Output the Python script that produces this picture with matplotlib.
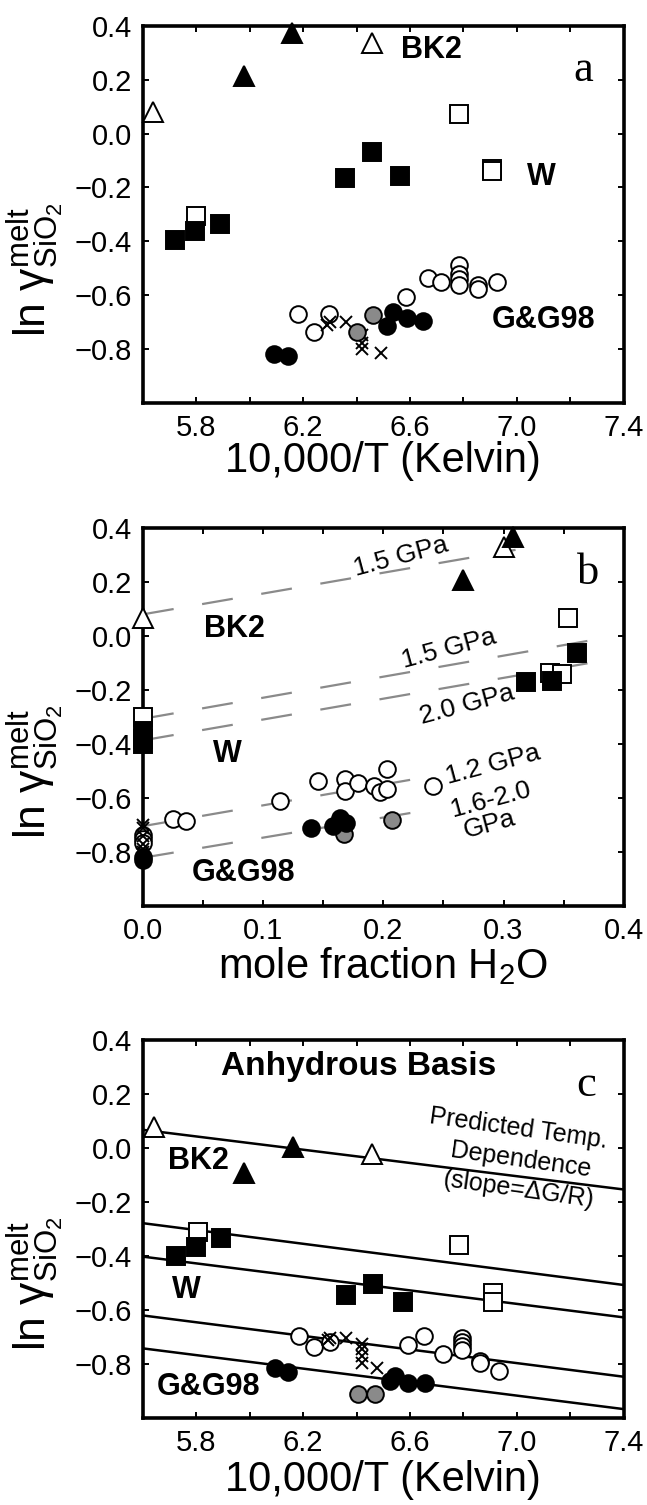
import numpy as np
import matplotlib
matplotlib.use("Agg")
from matplotlib import pyplot as plt
from matplotlib.ticker import MultipleLocator

plt.rcParams['font.family'] = ['Liberation Sans', 'DejaVu Sans']
plt.rcParams['mathtext.fontset'] = 'custom'
plt.rcParams['mathtext.rm'] = 'Liberation Sans'
plt.rcParams['mathtext.it'] = 'Liberation Sans:italic'
plt.rcParams['mathtext.bf'] = 'Liberation Sans:bold'

# ---- panel a : ln gamma vs 10,000/T (hydrous) ----
a_trif_x = [5.977, 6.158]
a_trif_y = [0.213, 0.372]
a_trio_x = [5.638, 6.457]
a_trio_y = [0.079, 0.335]
a_sqf_x = [5.718, 5.795, 5.888, 6.355, 6.457, 6.563]
a_sqf_y = [-0.394, -0.361, -0.337, -0.166, -0.068, -0.159]
a_sqo_x = [5.798, 6.785, 6.905, 6.905]
a_sqo_y = [-0.306, 0.073, -0.130, -0.140]
a_cio_x = [6.18, 6.242, 6.295, 6.585, 6.666, 6.715, 6.785, 6.785, 6.785, 6.785, 6.854, 6.854, 6.926]
a_cio_y = [-0.67, -0.737, -0.67, -0.605, -0.536, -0.55, -0.489, -0.52, -0.538, -0.563, -0.563, -0.575, -0.55]
a_cif_x = [6.089, 6.143, 6.512, 6.538, 6.589, 6.649]
a_cif_y = [-0.817, -0.825, -0.715, -0.66, -0.685, -0.695]
a_cig_x = [6.40, 6.462]
a_cig_y = [-0.734, -0.672]
a_crs_x = [6.29, 6.30, 6.36, 6.42, 6.42, 6.42, 6.49]
a_crs_y = [-0.71, -0.70, -0.70, -0.745, -0.775, -0.80, -0.815]

# ---- panel b : ln gamma vs mole fraction H2O ----
b_trif_x = [0.266, 0.308]
b_trif_y = [0.21, 0.369]
b_trio_x = [0.0, 0.300]
b_trio_y = [0.068, 0.332]
b_sqf_x = [0.0, 0.0, 0.0, 0.319, 0.340, 0.361]
b_sqf_y = [-0.35, -0.38, -0.40, -0.169, -0.165, -0.063]
b_sqo_x = [0.0, 0.339, 0.349, 0.354]
b_sqo_y = [-0.30, -0.137, -0.14, 0.068]
b_cio_x = [0, 0, 0, 0.025, 0.036, 0.114, 0.146, 0.168, 0.168, 0.179, 0.192, 0.197, 0.203, 0.203, 0.241]
b_cio_y = [-0.735, -0.75, -0.765, -0.679, -0.685, -0.611, -0.537, -0.53, -0.574, -0.543, -0.556, -0.577,
           -0.494, -0.568, -0.556]
b_cif_x = [0, 0, 0.140, 0.158, 0.164, 0.169]
b_cif_y = [-0.82, -0.83, -0.71, -0.704, -0.673, -0.691]
b_cig_x = [0.167, 0.207]
b_cig_y = [-0.733, -0.681]
b_crs_x = [0, 0, 0, 0, 0, 0]
b_crs_y = [-0.70, -0.71, -0.74, -0.77, -0.79, -0.80]
# dashed pressure trends
b_fit_x0 = [0.0, 0.0, 0.0, 0.0, 0.0]
b_fit_x1 = [0.31, 0.39, 0.39, 0.232, 0.235]
b_fit_y0 = [0.081, -0.306, -0.386, -0.704, -0.821]
b_fit_y1 = [0.32, -0.002, -0.085, -0.525, -0.646]

# ---- panel c : anhydrous basis ----
c_trif_x = [5.98, 6.162]
c_trif_y = [-0.091, 0.003]
c_trio_x = [5.642, 6.458]
c_trio_y = [0.077, -0.021]
c_sqf_x = [5.723, 5.80, 5.892, 6.362, 6.462, 6.572]
c_sqf_y = [-0.399, -0.365, -0.333, -0.544, -0.504, -0.569]
c_sqo_x = [5.805, 6.785, 6.911, 6.911]
c_sqo_y = [-0.309, -0.359, -0.537, -0.569]
c_cio_x = [6.185, 6.24, 6.30, 6.593, 6.652, 6.722, 6.793, 6.793, 6.793, 6.793, 6.861, 6.861, 6.933]
c_cio_y = [-0.696, -0.736, -0.717, -0.73, -0.696, -0.763, -0.704, -0.718, -0.733, -0.748, -0.788, -0.796, -0.825]
c_cif_x = [6.094, 6.144, 6.524, 6.543, 6.593, 6.655]
c_cif_y = [-0.816, -0.828, -0.861, -0.844, -0.871, -0.869]
c_cig_x = [6.406, 6.468]
c_cig_y = [-0.911, -0.911]
c_crs_x = [6.292, 6.30, 6.362, 6.42, 6.42, 6.42, 6.42, 6.477]
c_crs_y = [-0.712, -0.705, -0.702, -0.724, -0.746, -0.77, -0.795, -0.816]
# predicted temperature dependence
c_fit_x0 = [5.6, 5.6, 5.6, 5.6, 5.6]
c_fit_x1 = [7.4, 7.4, 7.4, 7.4, 7.4]
c_fit_y0 = [0.068, -0.278, -0.402, -0.62, -0.742]
c_fit_y1 = [-0.153, -0.507, -0.627, -0.847, -0.967]

GRAY = '#8a8a8a'


def draw_points(ax, s):
    (trif, trio, sqf, sqo, cio, cif, cig, crs) = s
    kw = dict(linestyle='none', mec='black', mew=1.4, clip_on=False, zorder=3)
    ax.plot(*cio, marker='o', ms=12, mfc='white', **kw)
    ax.plot(*crs, marker='x', ms=9, color='black', mew=1.4, linestyle='none', clip_on=False, zorder=3)
    ax.plot(*cig, marker='o', ms=12, mfc=GRAY, **kw)
    ax.plot(*cif, marker='o', ms=12, mfc='black', **kw)
    ax.plot(*sqo, marker='s', ms=13, mfc='white', **kw)
    ax.plot(*sqf, marker='s', ms=13, mfc='black', **kw)
    ax.plot(*trio, marker='^', ms=15, mfc='white', **kw)
    ax.plot(*trif, marker='^', ms=15, mfc='black', **kw)


def style(ax, xlim, xmaj, xmin):
    ax.set_xlim(*xlim)
    ax.set_ylim(-1.0, 0.4)
    ax.set_yticks([-0.8, -0.6, -0.4, -0.2, 0.0, 0.2, 0.4])
    ax.yaxis.set_minor_locator(MultipleLocator(0.2))
    ax.set_xticks(xmaj)
    ax.set_xticks(xmin, minor=True)
    ax.tick_params(which='both', direction='in', top=True, right=True, length=4, width=1.4,
                   labelsize=21, pad=8)
    for sp in ax.spines.values():
        sp.set_linewidth(2.6)
    ax.set_ylabel(r'ln $\mathrm{\gamma}^{\mathrm{melt}}_{\mathrm{SiO_2}}$', fontsize=32)
    ax.yaxis.set_label_coords(-0.16, 0.355)


fig = plt.figure(figsize=(6.47, 15.05), dpi=100)
L, W, H = 0.221, 0.743, 0.251

# panel a
ax = fig.add_axes([L, 0.732, W, H])
draw_points(ax, [(a_trif_x, a_trif_y), (a_trio_x, a_trio_y), (a_sqf_x, a_sqf_y), (a_sqo_x, a_sqo_y),
                 (a_cio_x, a_cio_y), (a_cif_x, a_cif_y), (a_cig_x, a_cig_y), (a_crs_x, a_crs_y)])
style(ax, (5.6, 7.4), [5.8, 6.2, 6.6, 7.0, 7.4], [6.0, 6.4, 6.8, 7.2])
ax.set_xlabel('10,000/T (Kelvin)', fontsize=30)
ax.xaxis.set_label_coords(0.5, -0.1)
ax.text(6.68, 0.31, 'BK2', fontsize=22, fontweight='bold', ha='center', va='center')
ax.text(7.09, -0.16, 'W', fontsize=22, fontweight='bold', ha='center', va='center')
ax.text(7.1, -0.69, 'G&G98', fontsize=22, fontweight='bold', ha='center', va='center')
ax.text(7.25, 0.235, 'a', family='Liberation Serif', fontsize=32, ha='center', va='center')

# panel b
ax = fig.add_axes([L, 0.398, W, H])
for x0, x1, y0, y1 in zip(b_fit_x0, b_fit_x1, b_fit_y0, b_fit_y1):
    ax.plot([x0, x1], [y0, y1], color=GRAY, lw=1.6, dashes=(14, 13), zorder=2)
draw_points(ax, [(b_trif_x, b_trif_y), (b_trio_x, b_trio_y), (b_sqf_x, b_sqf_y), (b_sqo_x, b_sqo_y),
                 (b_cio_x, b_cio_y), (b_cif_x, b_cif_y), (b_cig_x, b_cig_y), (b_crs_x, b_crs_y)])
style(ax, (0.0, 0.4), [0.0, 0.1, 0.2, 0.3, 0.4], [0.05, 0.15, 0.25, 0.35])
ax.set_xlabel(r'mole fraction H$_2$O', fontsize=30)
ax.xaxis.set_label_coords(0.5, -0.105)
ax.text(0.076, 0.025, 'BK2', fontsize=22, fontweight='bold', ha='center', va='center')
ax.text(0.07, -0.435, 'W', fontsize=22, fontweight='bold', ha='center', va='center')
ax.text(0.084, -0.877, 'G&G98', fontsize=22, fontweight='bold', ha='center', va='center')
ax.text(0.37, 0.234, 'b', family='Liberation Serif', fontsize=32, ha='center', va='center')
for tx, ty, s in [(0.215, 0.293, '1.5 GPa'), (0.2545, -0.045, '1.5 GPa'), (0.27, -0.255, '2.0 GPa'),
                  (0.291, -0.476, '1.2 GPa'), (0.289, -0.607, '1.6-2.0'), (0.288, -0.699, 'GPa')]:
    ax.text(tx, ty, s, fontsize=19, rotation=15, ha='center', va='center', rotation_mode='anchor')

# panel c
ax = fig.add_axes([L, 0.0578, W, H])
for x0, x1, y0, y1 in zip(c_fit_x0, c_fit_x1, c_fit_y0, c_fit_y1):
    ax.plot([x0, x1], [y0, y1], color='black', lw=1.8, zorder=2)
draw_points(ax, [(c_trif_x, c_trif_y), (c_trio_x, c_trio_y), (c_sqf_x, c_sqf_y), (c_sqo_x, c_sqo_y),
                 (c_cio_x, c_cio_y), (c_cif_x, c_cif_y), (c_cig_x, c_cig_y), (c_crs_x, c_crs_y)])
style(ax, (5.6, 7.4), [5.8, 6.2, 6.6, 7.0, 7.4], [6.0, 6.4, 6.8, 7.2])
ax.set_xlabel('10,000/T (Kelvin)', fontsize=30)
ax.xaxis.set_label_coords(0.5, -0.11)
ax.text(6.408, 0.302, 'Anhydrous Basis', fontsize=24, fontweight='bold', ha='center', va='center')
ax.text(7.26, 0.235, 'c', family='Liberation Serif', fontsize=32, ha='center', va='center')
ax.text(5.808, -0.048, 'BK2', fontsize=22, fontweight='bold', ha='center', va='center')
ax.text(5.762, -0.527, 'W', fontsize=22, fontweight='bold', ha='center', va='center')
ax.text(5.846, -0.884, 'G&G98', fontsize=22, fontweight='bold', ha='center', va='center')
for tx, ty, s in [(7.008, 0.071, 'Predicted Temp.'), (7.015, -0.042, 'Dependence'),
                  (7.005, -0.153, '(slope=\u0394G/R)')]:
    ax.text(tx, ty, s, fontsize=18, rotation=-8, ha='center', va='center', rotation_mode='anchor')

fig.savefig('out.png', dpi=100)
